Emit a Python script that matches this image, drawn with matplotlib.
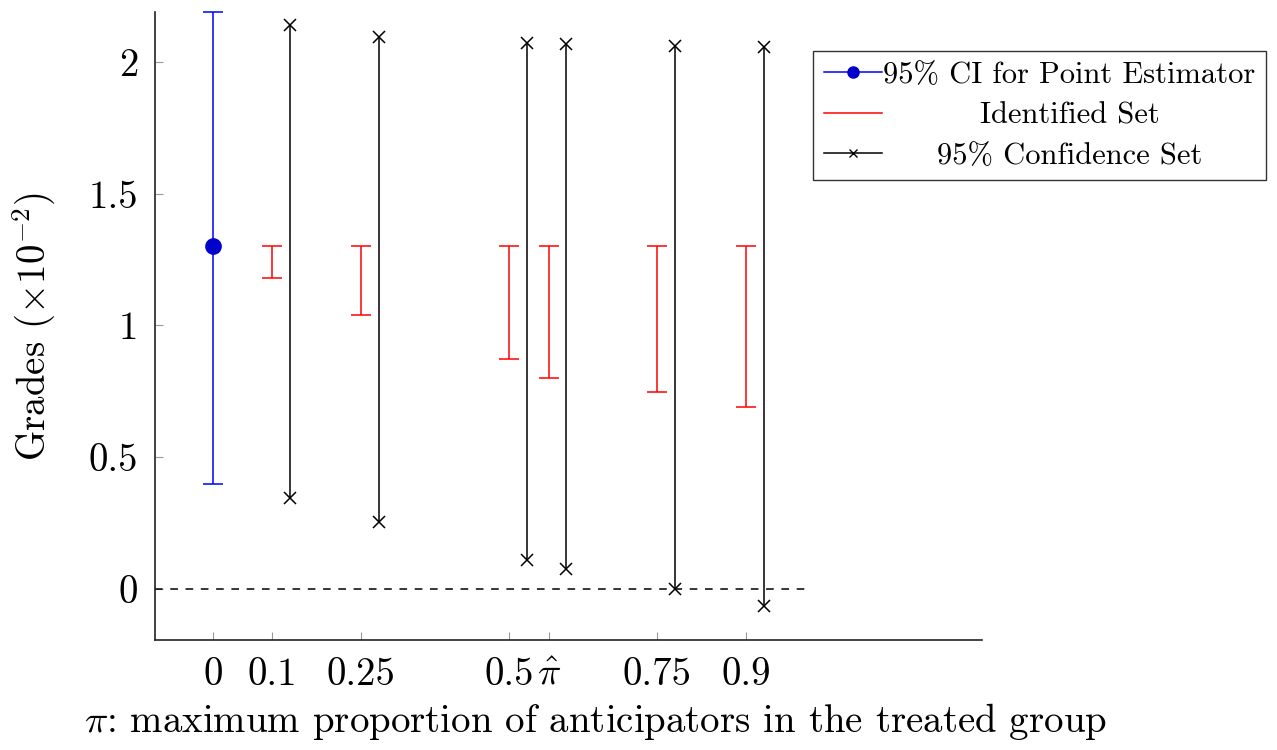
import matplotlib
matplotlib.use("Agg")
import matplotlib.pyplot as plt
from matplotlib.lines import Line2D

plt.rcParams['font.family'] = 'serif'
plt.rcParams['font.serif'] = ['cmr10', 'DejaVu Serif']
plt.rcParams['mathtext.fontset'] = 'cm'
plt.rcParams['axes.unicode_minus'] = False

# data
pi_hat = 0.567
point_x = 0.0
point_est = 1.30
point_ci = (0.40, 2.19)

pi_vals = [0.1, 0.25, 0.5, pi_hat, 0.75, 0.9]
id_lo = [1.18, 1.04, 0.873, 0.80, 0.748, 0.69]
id_hi = [1.30, 1.30, 1.30, 1.30, 1.30, 1.30]
cs_lo = [0.345, 0.254, 0.11, 0.076, 0.0, -0.065]
cs_hi = [2.14, 2.095, 2.072, 2.068, 2.06, 2.057]
cs_offset = 0.03

xticks = [0, 0.1, 0.25, 0.5, pi_hat, 0.75, 0.9]
xticklabels = ['0', '0.1', '0.25', '0.5', r'$\hat{\pi}$', '0.75', '0.9']
yticks = [0, 0.5, 1, 1.5, 2]
yticklabels = ['0', '0.5', '1', '1.5', '2']

fig = plt.figure(figsize=(12.77, 7.5), dpi=100)
ax = fig.add_axes([155/1277, 1-640/750, (982-155)/1277, (640-12)/750])

ax.axhline(0, xmin=0, xmax=(1.0+0.098)/(1.299+0.098), color='black', lw=1.1,
           ls=(0, (5, 5)))

# point estimator
ax.errorbar([point_x], [point_est],
            yerr=[[point_est-point_ci[0]], [point_ci[1]-point_est]],
            fmt='o', color='blue', mfc=(0, 0, 0.8), mec=(0, 0, 0.8), ms=11,
            elinewidth=1.1, capsize=7, capthick=1.1, clip_on=False, zorder=3)

# identified sets
for x, lo, hi in zip(pi_vals, id_lo, id_hi):
    ax.errorbar([x], [(lo+hi)/2], yerr=[[(hi-lo)/2], [(hi-lo)/2]], fmt='none',
                ecolor='red', elinewidth=1.1, capsize=7, capthick=1.1)

# confidence sets
for x, lo, hi in zip(pi_vals, cs_lo, cs_hi):
    ax.plot([x+cs_offset, x+cs_offset], [lo, hi], color='black', lw=1.1,
            marker='x', ms=9, mew=1.1)

ax.set_xlim(-0.098, 1.299)
ax.set_ylim(-0.194, 2.19)
ax.set_xticks(xticks)
ax.set_xticklabels(xticklabels)
ax.set_yticks(yticks)
ax.set_yticklabels(yticklabels)
ax.tick_params(direction='in', length=6, color='#999999', labelsize=28, pad=12)
ax.spines['top'].set_visible(False)
ax.spines['right'].set_visible(False)
for s in ['left', 'bottom']:
    ax.spines[s].set_linewidth(1.2)
    ax.spines[s].set_color('#222222')

ax.set_ylabel(r'Grades ($\times 10^{-2}$)', fontsize=28)
ax.yaxis.set_label_coords((58-155)/827, (640-327)/628)
fig.text(595/1277, 1-722/750,
         r'$\pi$: maximum proportion of anticipators in the treated group',
         fontsize=28, ha='center', va='center')

handles = [
    Line2D([], [], color='blue', marker='o', mfc=(0, 0, 0.8), mec=(0, 0, 0.8), ms=8, lw=1.1),
    Line2D([], [], color='red', lw=1.1),
    Line2D([], [], color='black', marker='x', ms=6, lw=1.1),
]
labels = ['95% CI for Point Estimator', 'Identified Set', '95% Confidence Set']
leg = fig.legend(handles, labels, loc='upper left',
                 bbox_to_anchor=(813/1277, 1-51/750), fontsize=22,
                 frameon=True, fancybox=False, edgecolor='black',
                 handlelength=1.9, handletextpad=0.05, borderpad=0.35,
                 labelspacing=0.42, borderaxespad=0)
leg.get_frame().set_linewidth(1.0)

fig.canvas.draw()
r = fig.canvas.get_renderer()
texts = leg.get_texts()
widths = [t.get_window_extent(r).width for t in texts]
mw = max(widths)
for t, w in zip(texts, widths):
    t.set_x((mw - w) / 2)

fig.savefig('out.png', dpi=100)
